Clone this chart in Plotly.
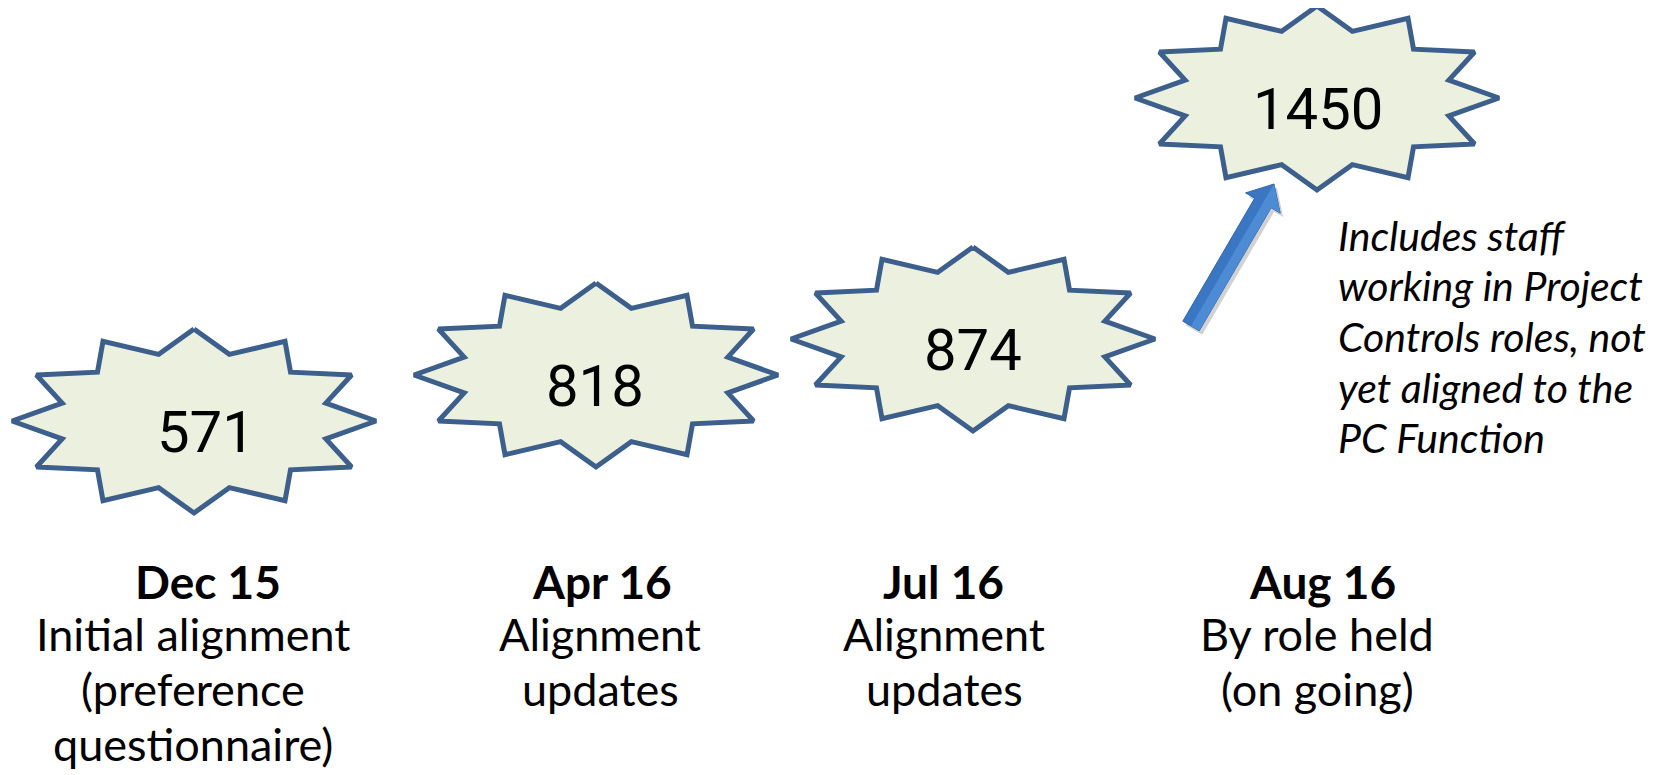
import numpy as np
import plotly.graph_objects as go

# Data
periods = ["Dec 15", "Apr 16", "Jul 16", "Aug 16"]
headcount = [571, 818, 874, 1450]
descriptions = [
    ["Initial alignment", "(preference", "questionnaire)"],
    ["Alignment", "updates"],
    ["Alignment", "updates"],
    ["By role held", "(on going)"],
]
note_lines = [
    "Includes staff",
    "working in Project",
    "Controls roles, not",
    "yet aligned to the",
    "PC Function",
]

# Layout (pixel coordinates, y grows downwards)
W, H = 1672, 775
OFF = 8  # default body margin of the html page
star_x = [194, 596, 973, 1317]
star_y = [421, 375, 339, 98]
num_x = [206, 595, 973, 1318]
date_x = [208, 602, 943, 1322]
desc_x = [193, 600, 944, 1317]
date_y = 581
desc_y = [634, 689, 744]
note_x = 1336
note_y = [235, 285, 336, 387, 437]

STAR_FILL = "#EBF1DE"
STAR_LINE = "#3C5F8C"


def star12(cx, cy, rx=182, ry=92, inner=0.75):
    # 12 point burst, outer points every 30 deg, inner points in between
    ang = np.deg2rad(np.arange(0, 360, 15) + 90)
    r = np.where(np.arange(24) % 2 == 0, 1.0, inner)
    xs = cx + rx * r * np.cos(ang)
    ys = cy - ry * r * np.sin(ang)
    return np.append(xs, xs[0]), np.append(ys, ys[0])


def to_path(points, dx=0.0, dy=0.0):
    s = "M " + " L ".join(f"{p[0] + dx:.1f},{p[1] + dy:.1f}" for p in points)
    return s + " Z"


fig = go.Figure()

# Block arrow from the Jul 16 star up to the Aug 16 star
tail = np.array([1191.0, 326.0])
tip = np.array([1274.0, 184.0])
u = (tip - tail) / np.linalg.norm(tip - tail)
n = np.array([-u[1], u[0]])
shaft_hw, head_hw, head_len = 9.5, 20.0, 22.0
base = tip - u * head_len
pts = [
    tail + n * shaft_hw,
    base + n * shaft_hw,
    base + n * head_hw,
    tip,
    base - n * head_hw,
    base - n * shaft_hw,
    tail - n * shaft_hw,
]

fig.add_shape(type="path", path=to_path(pts, 3, 4), xref="x", yref="y",
              fillcolor="rgba(0,0,0,0.18)", line=dict(width=0), layer="below")
fig.add_shape(type="path", path=to_path(pts), xref="x", yref="y",
              fillcolor="#3A76C2", line=dict(color="#3264A8", width=1), layer="below")
# lighter half to mimic the gradient
half = [tail + n * shaft_hw, base + n * shaft_hw, base + n * head_hw, tip, base, tail]
fig.add_shape(type="path", path=to_path(half), xref="x", yref="y",
              fillcolor="#4E8BD5", line=dict(width=0), layer="below")

# Stars
for cx, cy in zip(star_x, star_y):
    xs, ys = star12(cx, cy)
    fig.add_trace(go.Scatter(
        x=xs, y=ys, mode="lines", fill="toself",
        fillcolor=STAR_FILL, line=dict(color=STAR_LINE, width=5),
        hoverinfo="skip", showlegend=False
    ))

# Headcount numbers
for val, x, cy in zip(headcount, num_x, star_y):
    fig.add_annotation(x=x, y=cy + 11, text=str(val), showarrow=False,
                       font=dict(family="Roboto", size=58, color="#000000"),
                       xanchor="center", yanchor="middle")

# Period labels and descriptions
for period, lines, dx, lx in zip(periods, descriptions, date_x, desc_x):
    fig.add_annotation(x=dx, y=date_y, text=f"<b>{period}</b>", showarrow=False,
                       font=dict(family="Lato", size=46, color="#000000"),
                       xanchor="center", yanchor="middle")
    for line, ly in zip(lines, desc_y):
        fig.add_annotation(x=lx, y=ly, text=line, showarrow=False,
                           font=dict(family="Lato", size=45, color="#000000"),
                           xanchor="center", yanchor="middle")

# Italic note
for line, ly in zip(note_lines, note_y):
    fig.add_annotation(x=note_x, y=ly, text=f"<i>{line}</i>", showarrow=False,
                       font=dict(family="Lato", size=41, color="#000000"),
                       xanchor="left", yanchor="middle")

fig.update_layout(
    width=W, height=H,
    margin=dict(l=0, r=0, t=0, b=0),
    paper_bgcolor="white", plot_bgcolor="white",
    xaxis=dict(range=[OFF, W + OFF], visible=False, fixedrange=True),
    yaxis=dict(range=[H + OFF, OFF], visible=False, fixedrange=True),
    showlegend=False
)

fig.write_html("out.html")
